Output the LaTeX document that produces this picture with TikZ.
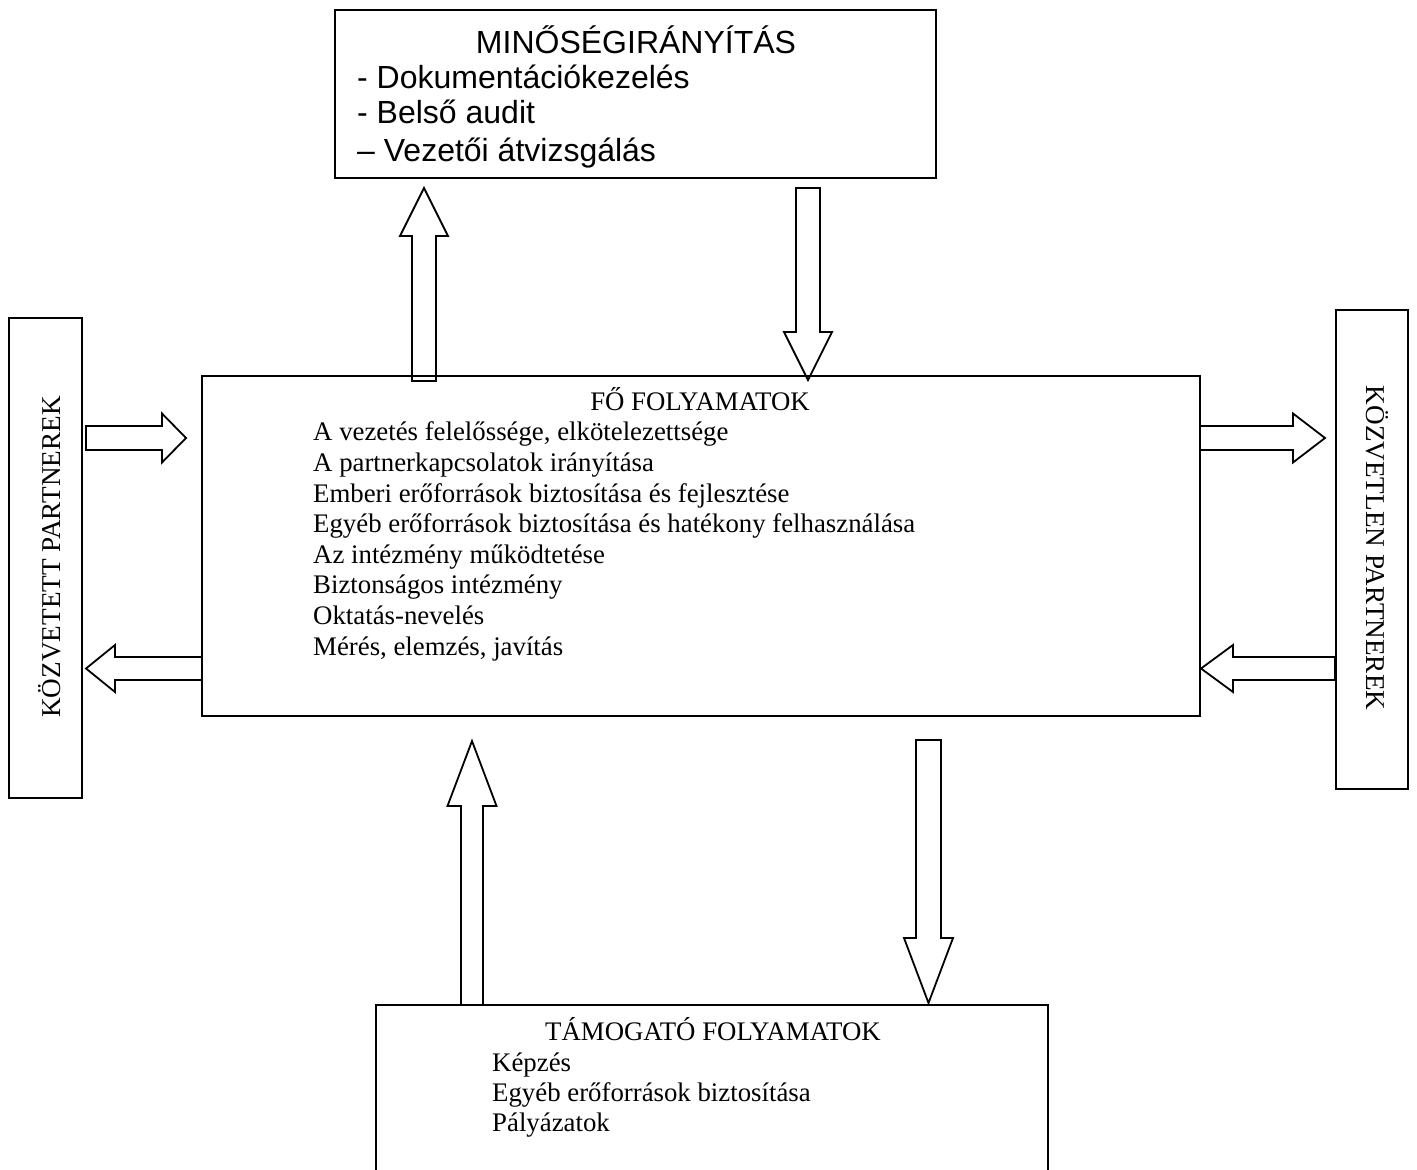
\documentclass[tikz,border=0pt]{standalone}
\usepackage{fontspec}
\setmainfont{Liberation Serif}
\newfontfamily\arialf{Liberation Sans}
\newcommand{\vertarrow}[6]{% x, ytail, ytip, ybase, shaft half, head half
  \draw[barrow] (#1-#5,#2) -- (#1-#5,#4) -- (#1-#6,#4) -- (#1,#3) -- (#1+#6,#4) -- (#1+#5,#4) -- (#1+#5,#2) -- cycle;}
\newcommand{\horarrow}[6]{% y, xtail, xtip, xbase, shaft half, head half
  \draw[barrow] (#2,#1-#5) -- (#4,#1-#5) -- (#4,#1-#6) -- (#3,#1) -- (#4,#1+#6) -- (#4,#1+#5) -- (#2,#1+#5) -- cycle;}
\begin{document}
\begin{tikzpicture}[x=1pt,y=-1pt,
  box/.style={draw, line width=2pt, inner sep=0pt},
  barrow/.style={draw, line width=1.8pt, line join=miter},
  sanstxt/.style={inner sep=0pt, font=\arialf\fontsize{32}{36}\selectfont},
  sertxt/.style={inner sep=0pt, font=\fontsize{26.8}{30}\selectfont},
  sidetxt/.style={inner sep=0pt, font=\fontsize{27.2}{30}\selectfont}]
\useasboundingbox (0,0) rectangle (1417,1170);
% boxes
\node[box, minimum width=601, minimum height=168] (mgmt) at (635.5,94) {};
\node[box, minimum width=998, minimum height=340] (main) at (701,546) {};
\node[box, minimum width=73, minimum height=480] (left) at (45.5,558) {};
\node[box, minimum width=72, minimum height=479] (right) at (1372,549.5) {};
\node[inner sep=0pt, minimum width=672, minimum height=165] (supp) at (712,1087.5) {};
\draw[line width=2pt] (supp.south west) -- (supp.north west) -- (supp.north east) -- (supp.south east);
% top box text
\node[sanstxt, anchor=base] (t0) at (636,53.5) {MINŐSÉGIRÁNYÍTÁS};
\node[sanstxt, anchor=base west] (t1) at (357,88) {- Dokumentációkezelés};
\node[sanstxt, anchor=base west] (t2) at (357,123.5) {- Belső audit};
\node[sanstxt, anchor=base west] (t3) at (357,161) {– Vezetői átvizsgálás};
% main box text
\node[sertxt, anchor=base] (m0) at (700,410) {FŐ FOLYAMATOK};
\node[sertxt, anchor=base west] (m1) at (313,440) {A vezetés felelőssége, elkötelezettsége};
\node[sertxt, anchor=base west] (m2) at (313,471) {A partnerkapcsolatok irányítása};
\node[sertxt, anchor=base west] (m3) at (313,502) {Emberi erőforrások biztosítása és fejlesztése};
\node[sertxt, anchor=base west] (m4) at (313,532) {Egyéb erőforrások biztosítása és hatékony felhasználása};
\node[sertxt, anchor=base west] (m5) at (313,563) {Az intézmény működtetése};
\node[sertxt, anchor=base west] (m6) at (313,593) {Biztonságos intézmény};
\node[sertxt, anchor=base west] (m7) at (313,624) {Oktatás-nevelés};
\node[sertxt, anchor=base west] (m8) at (313,655) {Mérés, elemzés, javítás};
% support box text
\node[sertxt, anchor=base] (s0) at (713,1040) {TÁMOGATÓ FOLYAMATOK};
\node[sertxt, anchor=base west] (s1) at (492,1071) {Képzés};
\node[sertxt, anchor=base west] (s2) at (492,1101) {Egyéb erőforrások biztosítása};
\node[sertxt, anchor=base west] (s3) at (492,1131) {Pályázatok};
% side texts
\node[sidetxt, rotate=90] (lt) at (50,557) {KÖZVETETT PARTNEREK};
\node[sidetxt, rotate=-90] (rt) at (1377,548) {KÖZVETLEN PARTNEREK};
% block arrows
\vertarrow{424}{381}{188}{236}{12}{24}
\vertarrow{808}{188}{380}{332}{12}{24}
\horarrow{438}{86}{186}{162}{12}{24.5}
\horarrow{668.5}{202}{86}{115}{11.5}{23.5}
\horarrow{438}{1200}{1325}{1293}{12}{24.5}
\horarrow{668.5}{1335}{1201}{1233}{11.5}{23.5}
\vertarrow{472}{1005}{741}{806}{11}{24.5}
\vertarrow{928.5}{740}{1003}{938}{12.5}{24.5}
\end{tikzpicture}
\end{document}
